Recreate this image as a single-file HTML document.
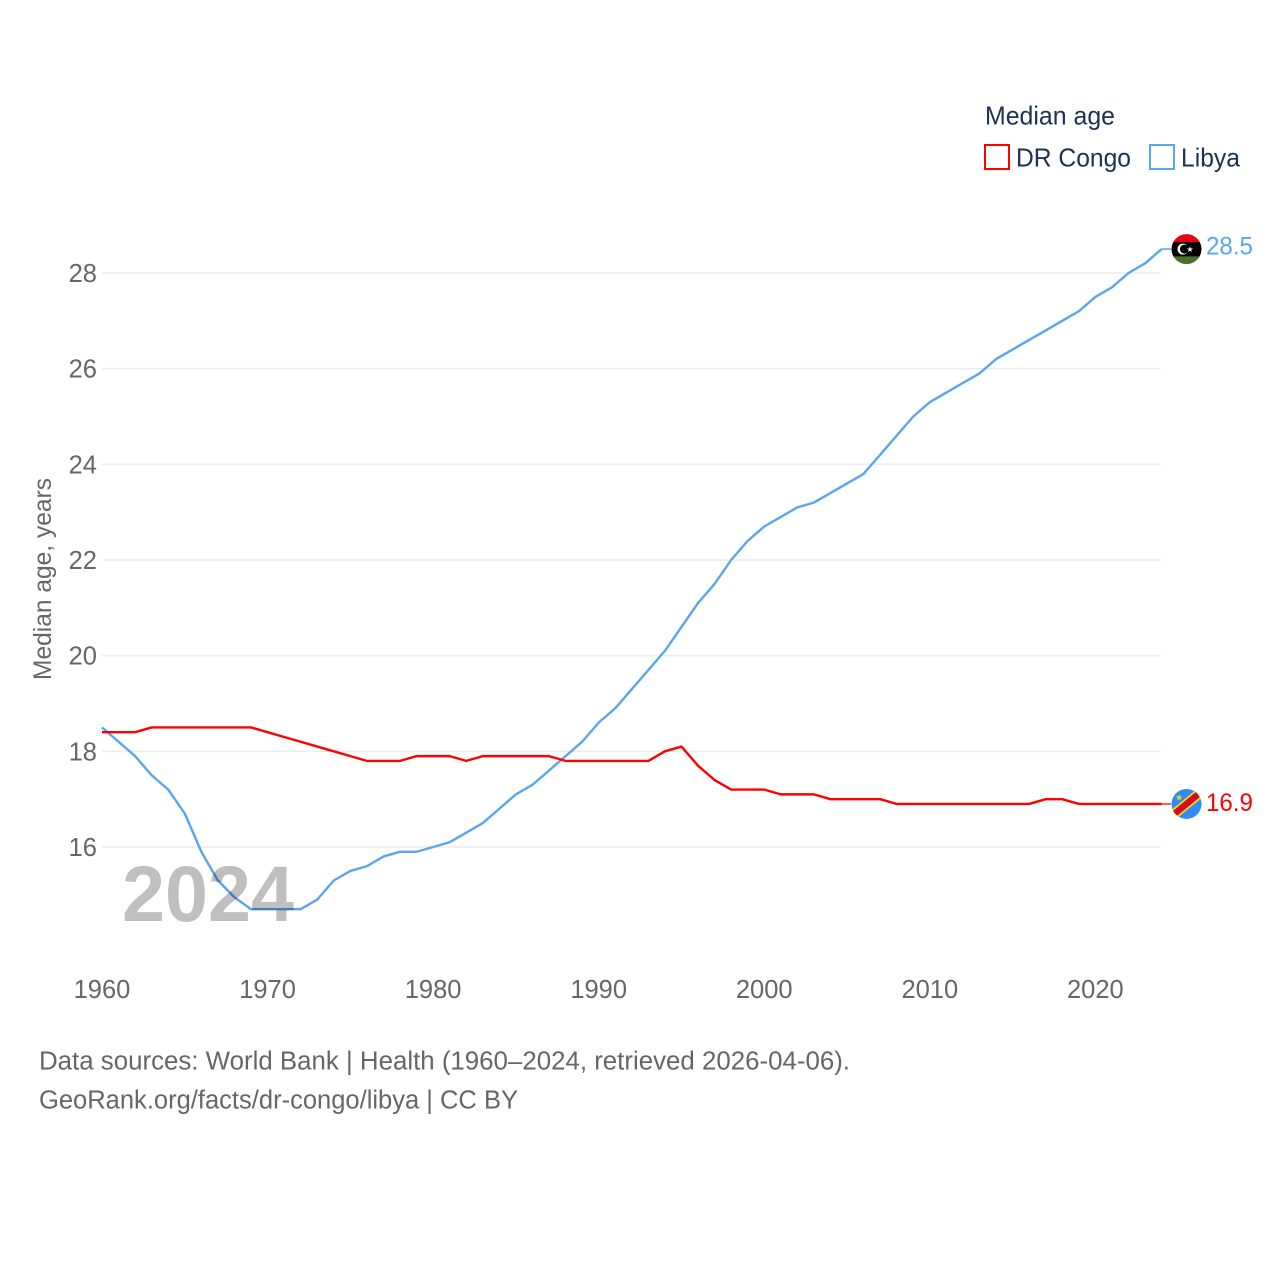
<!DOCTYPE html>
<html lang="en">
<head>
<meta charset="utf-8">
<title>Median age: DR Congo and Libya</title>
<style>
html,body{margin:0;padding:0;background:#fff;width:1280px;height:1280px;overflow:hidden}
svg{display:block}
text{font-family:"Liberation Sans",sans-serif}
</style>
</head>
<body>
<svg id="chart" width="1280" height="1280" viewBox="0 0 1280 1280" xmlns="http://www.w3.org/2000/svg">
  <defs>
    <clipPath id="clip-libya"><circle id="clip-libya-circle" r="15"></circle></clipPath>
    <clipPath id="clip-congo"><circle id="clip-congo-circle" r="15"></circle></clipPath>
  </defs>
  <g id="grid"></g>
  <g id="y-ticks"></g>
  <g id="x-ticks"></g>
  <text transform="translate(51,680) rotate(-90)" font-size="25" fill="#666" textLength="202" lengthAdjust="spacingAndGlyphs">Median age, years</text>
  <g id="lines"></g>
  <text x="122" y="921" font-size="79" font-weight="700" fill="#000" fill-opacity="0.25" textLength="172" lengthAdjust="spacingAndGlyphs">2024</text>
  <g id="ends"></g>
  <g>
    <text x="985" y="124.5" font-size="26" fill="#1d3150" textLength="130" lengthAdjust="spacingAndGlyphs">Median age</text>
    <g>
      <rect x="985" y="145" width="24" height="24" fill="none" stroke="#ff0000" stroke-width="2"></rect>
      <text x="1016" y="166.5" font-size="26" fill="#1d3150" textLength="115" lengthAdjust="spacingAndGlyphs">DR Congo</text>
    </g>
    <g>
      <rect x="1150" y="145" width="24" height="24" fill="none" stroke="#5ba4ee" stroke-width="2"></rect>
      <text x="1181" y="166.5" font-size="26" fill="#1d3150" textLength="59" lengthAdjust="spacingAndGlyphs">Libya</text>
    </g>
  </g>
  <text x="39" y="1069.5" font-size="25.5" fill="#666" textLength="811" lengthAdjust="spacingAndGlyphs">Data sources: World Bank | Health (1960–2024, retrieved 2026-04-06).</text>
  <text x="39" y="1108.5" font-size="25.5" fill="#666" textLength="479" lengthAdjust="spacingAndGlyphs">GeoRank.org/facts/dr-congo/libya | CC BY</text>
</svg>
<script>
const years = [1960,1961,1962,1963,1964,1965,1966,1967,1968,1969,1970,1971,1972,1973,1974,1975,1976,1977,1978,1979,1980,1981,1982,1983,1984,1985,1986,1987,1988,1989,1990,1991,1992,1993,1994,1995,1996,1997,1998,1999,2000,2001,2002,2003,2004,2005,2006,2007,2008,2009,2010,2011,2012,2013,2014,2015,2016,2017,2018,2019,2020,2021,2022,2023,2024];
const libyaValues = [18.5,18.2,17.9,17.5,17.2,16.7,15.9,15.3,14.95,14.7,14.7,14.7,14.7,14.9,15.3,15.5,15.6,15.8,15.9,15.9,16.0,16.1,16.3,16.5,16.8,17.1,17.3,17.6,17.9,18.2,18.6,18.9,19.3,19.7,20.1,20.6,21.1,21.5,22.0,22.4,22.7,22.9,23.1,23.2,23.4,23.6,23.8,24.2,24.6,25.0,25.3,25.5,25.7,25.9,26.2,26.4,26.6,26.8,27.0,27.2,27.5,27.7,28.0,28.2,28.5];
const congoValues = [18.4,18.4,18.4,18.5,18.5,18.5,18.5,18.5,18.5,18.5,18.4,18.3,18.2,18.1,18.0,17.9,17.8,17.8,17.8,17.9,17.9,17.9,17.8,17.9,17.9,17.9,17.9,17.9,17.8,17.8,17.8,17.8,17.8,17.8,18.0,18.1,17.7,17.4,17.2,17.2,17.2,17.1,17.1,17.1,17.0,17.0,17.0,17.0,16.9,16.9,16.9,16.9,16.9,16.9,16.9,16.9,16.9,17.0,17.0,16.9,16.9,16.9,16.9,16.9,16.9];
const yTickValues = [16,18,20,22,24,26,28];
const xTickValues = [1960,1970,1980,1990,2000,2010,2020];

const NS = 'http://www.w3.org/2000/svg';
const xScale = function (year) { return 102 + (year - 1960) * (1059.6 / 64); };
const yScale = function (value) { return 847 - (value - 16) * (574 / 12); };
function make(tag, parent, attrs, text) {
  const el = document.createElementNS(NS, tag);
  for (const k in attrs) el.setAttribute(k, attrs[k]);
  if (text !== undefined) el.textContent = text;
  parent.appendChild(el);
  return el;
}
const gridG = document.getElementById('grid');
const yG = document.getElementById('y-ticks');
const xG = document.getElementById('x-ticks');
const linesG = document.getElementById('lines');
const endsG = document.getElementById('ends');

yTickValues.forEach(function (v) {
  const line = make('line', gridG, {x1: 102, x2: 1161, y1: yScale(v), y2: yScale(v), stroke: '#ececec', 'stroke-width': 1.6});
  
  
  const label = make('text', yG, {x: 97, y: yScale(v) + 9, 'text-anchor': 'end', 'font-size': 25.5, fill: '#666'}, String(v));
  
  
});
xTickValues.forEach(function (v) {
  const label = make('text', xG, {x: xScale(v), y: 998, 'text-anchor': 'middle', 'font-size': 25.5, fill: '#666'}, String(v));
  
  
});
function pathFor(values) {
  return values.map(function (v, i) { return (i ? 'L' : 'M') + xScale(years[i]).toFixed(2) + ' ' + yScale(v).toFixed(2); }).join(' ');
}
const libyaLine = make('path', linesG, {d: pathFor(libyaValues), fill: 'none', stroke: '#5ba4ee', 'stroke-width': 2.4, 'stroke-linejoin': 'round'});


const congoLine = make('path', linesG, {d: pathFor(congoValues), fill: 'none', stroke: '#ff0000', 'stroke-width': 2.4, 'stroke-linejoin': 'round'});



const endX = xScale(years[years.length - 1]);
const flagX = 1186.5;

// Libya end marker
const libyaY = yScale(libyaValues[libyaValues.length - 1]);
const libyaStub = make('line', endsG, {x1: endX, x2: 1171, y1: libyaY, y2: libyaY, stroke: '#5ba4ee', 'stroke-width': 2, 'stroke-opacity': 0.8});


const fy = libyaY;
document.getElementById('clip-libya-circle').setAttribute('cx', flagX);
document.getElementById('clip-libya-circle').setAttribute('cy', fy);
const libyaFlag = make('g', endsG, {'clip-path': 'url(#clip-libya)'});


make('rect', libyaFlag, {x: flagX - 15, y: fy - 15, width: 30, height: 8, fill: '#e70013'});
make('rect', libyaFlag, {x: flagX - 15, y: fy - 7, width: 30, height: 14.5, fill: '#000'});
make('rect', libyaFlag, {x: flagX - 15, y: fy + 7.5, width: 30, height: 8, fill: '#4d6f2c'});
make('circle', libyaFlag, {cx: flagX - 3.5, cy: fy, r: 5.5, fill: '#fff'});
make('circle', libyaFlag, {cx: flagX - 2, cy: fy, r: 4.5, fill: '#000'});
make('text', libyaFlag, {x: flagX + 3.5, y: fy + 3, 'font-size': 8, 'text-anchor': 'middle', fill: '#fff'}, '★');
const libyaValue = make('text', endsG, {x: 1206, y: libyaY + 5.5, 'font-size': 25, fill: '#5ba4ee', textLength: 47, lengthAdjust: 'spacingAndGlyphs'}, libyaValues[libyaValues.length - 1].toFixed(1));



// DR Congo end marker
const congoY = yScale(congoValues[congoValues.length - 1]);
const congoStub = make('line', endsG, {x1: endX, x2: 1171, y1: congoY, y2: congoY, stroke: '#ff0000', 'stroke-width': 2, 'stroke-opacity': 0.65});


document.getElementById('clip-congo-circle').setAttribute('cx', flagX);
document.getElementById('clip-congo-circle').setAttribute('cy', congoY);
const congoFlag = make('g', endsG, {'clip-path': 'url(#clip-congo)'});


make('rect', congoFlag, {x: flagX - 15, y: congoY - 15, width: 30, height: 30, fill: '#338af3'});
make('line', congoFlag, {x1: flagX - 17, y1: congoY + 14, x2: flagX + 17, y2: congoY - 14, stroke: '#f7d618', 'stroke-width': 10});
make('line', congoFlag, {x1: flagX - 17, y1: congoY + 14, x2: flagX + 17, y2: congoY - 14, stroke: '#ce1021', 'stroke-width': 6.5});
make('text', congoFlag, {x: flagX - 7.5, y: congoY - 3.5, 'font-size': 9, 'text-anchor': 'middle', fill: '#f7d618'}, '★');
const congoValue = make('text', endsG, {x: 1206, y: congoY + 7, 'font-size': 25, fill: '#ff0000', textLength: 47, lengthAdjust: 'spacingAndGlyphs'}, congoValues[congoValues.length - 1].toFixed(1));


</script>
</body>
</html>
